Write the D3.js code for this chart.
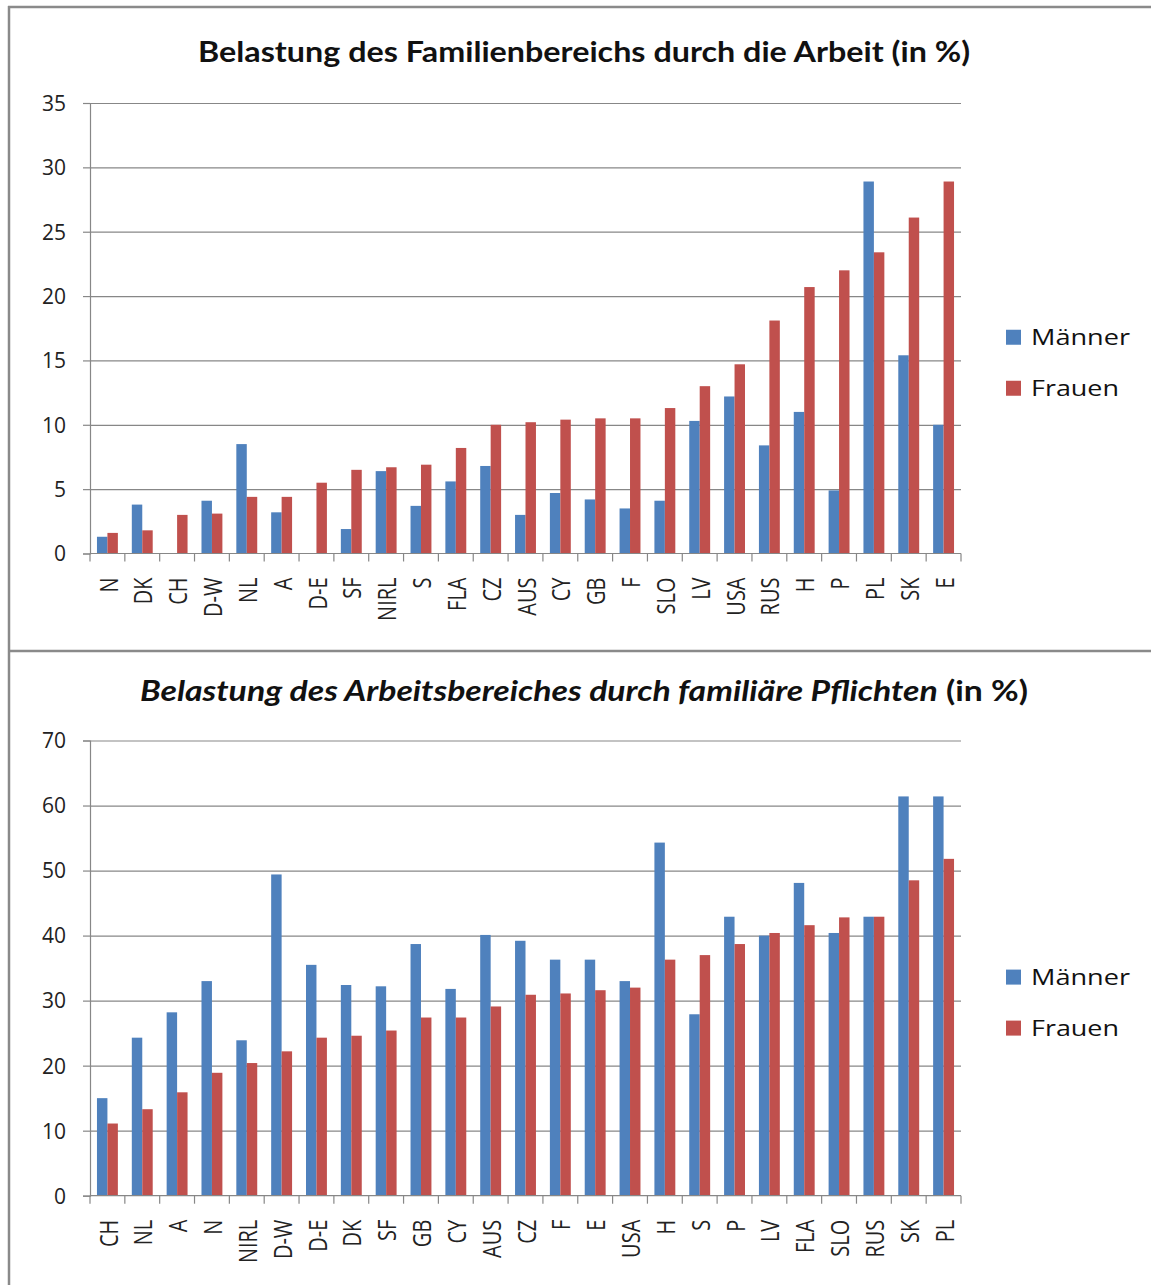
<!DOCTYPE html>
<html><head><meta charset="utf-8">
<script src="https://cdn.jsdelivr.net/npm/d3@7"></script>
<style>
html,body{margin:0;padding:0;background:#fff;}
svg{display:block;}
</style></head>
<body>
<svg id="c" width="1151" height="1285"></svg>
<script>
// ---------- data ----------
const series = ["Männer", "Frauen"];
const title1 = "Belastung des Familienbereichs durch die Arbeit (in %)";
const cats1 = ["N","DK","CH","D-W","NL","A","D-E","SF","NIRL","S","FLA","CZ","AUS","CY","GB","F","SLO","LV","USA","RUS","H","P","PL","SK","E"];
const maenner1 = [1.3,3.8,0,4.1,8.5,3.2,0,1.9,6.4,3.7,5.6,6.8,3.0,4.7,4.2,3.5,4.1,10.3,12.2,8.4,11.0,4.9,28.9,15.4,10.0];
const frauen1  = [1.6,1.8,3.0,3.1,4.4,4.4,5.5,6.5,6.7,6.9,8.2,10.0,10.2,10.4,10.5,10.5,11.3,13.0,14.7,18.1,20.7,22.0,23.4,26.1,28.9];
const yTicks1 = [0,5,10,15,20,25,30,35];

const title2Italic = "Belastung des Arbeitsbereiches durch familiäre Pflichten";
const title2Rest = " (in %)";
const cats2 = ["CH","NL","A","N","NIRL","D-W","D-E","DK","SF","GB","CY","AUS","CZ","F","E","USA","H","S","P","LV","FLA","SLO","RUS","SK","PL"];
const maenner2 = [15.0,24.3,28.2,33.0,23.9,49.4,35.5,32.4,32.2,38.7,31.8,40.1,39.2,36.3,36.3,33.0,54.3,27.9,42.9,40.0,48.1,40.4,42.9,61.4,61.4];
const frauen2  = [11.1,13.3,15.9,18.9,20.4,22.2,24.3,24.6,25.4,27.4,27.4,29.1,30.9,31.1,31.6,32.0,36.3,37.0,38.7,40.4,41.6,42.8,42.9,48.5,51.8];
const yTicks2 = [0,10,20,30,40,50,60,70];

const colors = ["#4F81BD", "#C0504D"];
const gridColor = "#878787";
const FONT = "'Open Sans', 'DejaVu Sans', sans-serif";
const TFONT = "Lato, 'Open Sans', sans-serif";

const svg = d3.select("#c");

// frame lines
svg.append("line").attr("x1",9).attr("x2",9).attr("y1",6).attr("y2",1285)
  .attr("stroke","#8a8a8a").attr("stroke-width",2.5);
svg.append("line").attr("x1",8).attr("x2",1151).attr("y1",7).attr("y2",7)
  .attr("stroke","#8a8a8a").attr("stroke-width",2.5);
svg.append("line").attr("x1",8).attr("x2",1151).attr("y1",651).attr("y2",651)
  .attr("stroke","#8a8a8a").attr("stroke-width",2.5);

function drawChart(cfg){
  const g = svg.append("g");
  const x = d3.scaleBand().domain(cfg.cats).range([cfg.left, cfg.right]).paddingInner(0).paddingOuter(0);
  const groupW = x.bandwidth()*0.6;
  const x1 = d3.scaleBand().domain(series).range([0, groupW]).padding(0);
  const y = d3.scaleLinear().domain([0, d3.max(cfg.ticks)]).range([cfg.bottom, cfg.top]);

  // gridlines
  g.append("g").attr("transform",`translate(${cfg.left},0)`)
    .call(d3.axisLeft(y).tickValues(cfg.ticks.filter(t=>t>0)).tickSize(-(cfg.right-cfg.left)).tickFormat(""))
    .call(s=>{s.select(".domain").remove(); s.selectAll("line").attr("stroke",gridColor).attr("stroke-width",1.2);});

  // bars
  const data = cfg.cats.map((c,i)=>({cat:c, vals:[cfg.m[i], cfg.f[i]]}));
  const grp = g.selectAll("g.cat").data(data).join("g")
    .attr("transform", d=>`translate(${x(d.cat) + (x.bandwidth()-groupW)/2},0)`);
  grp.selectAll("rect").data(d=>d.vals.map((v,k)=>({s:series[k], v, k}))).join("rect")
    .attr("x", d=>x1(d.s)).attr("width", x1.bandwidth())
    .attr("y", d=>y(d.v)).attr("height", d=>y(0)-y(d.v))
    .attr("fill", d=>colors[d.k]);

  // y axis
  g.append("g").attr("transform",`translate(${cfg.left},0)`)
    .call(d3.axisLeft(y).tickValues(cfg.ticks).tickSize(7).tickPadding(17))
    .call(s=>{
      s.select(".domain").attr("stroke",gridColor).attr("stroke-width",1.2);
      s.selectAll("line").attr("stroke",gridColor).attr("stroke-width",1.2);
      s.selectAll("text").attr("font-family",FONT).attr("font-size",21).attr("fill","#222")
        .attr("dy","0.35em");
    });

  // x axis baseline
  g.append("line").attr("x1",cfg.left).attr("x2",cfg.right).attr("y1",y(0)).attr("y2",y(0))
    .attr("stroke",gridColor).attr("stroke-width",1.2);
  // category boundary ticks
  const bounds = cfg.cats.map(c=>x(c)).concat([cfg.right]);
  g.selectAll("line.bt").data(bounds).join("line")
    .attr("x1",d=>d).attr("x2",d=>d).attr("y1",y(0)).attr("y2",y(0)+8)
    .attr("stroke",gridColor).attr("stroke-width",1.2);

  // x labels
  const xa = g.append("g").attr("transform",`translate(0,${y(0)})`)
    .call(d3.axisBottom(x).tickSize(0).tickPadding(0));
  xa.select(".domain").remove();
  xa.selectAll(".tick text")
    .attr("font-family",FONT).attr("font-size",20).attr("fill","#222")
    .attr("text-anchor","end").attr("dy",null).attr("y",0).attr("x",0)
    .attr("transform","translate(0,24) rotate(-90) scale(1,1.3)")
    .attr("dominant-baseline","central");

  // title
  const t = g.append("text").attr("x",584).attr("y",cfg.titleY).attr("text-anchor","middle")
    .attr("font-family",TFONT).attr("font-size",28).attr("font-weight","bold").attr("fill","#111")
    .attr("textLength", cfg.titleLen).attr("lengthAdjust","spacingAndGlyphs");
  cfg.title.forEach(p=>t.append("tspan").attr("font-style",p.italic?"italic":"normal").text(p.text));

  // legend
  const cy = (cfg.top+cfg.bottom)/2 + 9;
  const lg = g.append("g");
  series.forEach((s,k)=>{
    const yy = cy + k*51;
    lg.append("rect").attr("x",1006).attr("y",yy-7.5).attr("width",15).attr("height",15).attr("fill",colors[k]);
    lg.append("text").attr("x",1031).attr("y",yy).attr("dy","0.36em")
      .attr("font-family",FONT).attr("font-size",22).attr("fill","#111")
      .attr("textLength", k===0?99:88).attr("lengthAdjust","spacingAndGlyphs")
      .text(s);
  });
}

drawChart({cats:cats1, m:maenner1, f:frauen1, ticks:yTicks1, left:90, right:961, top:103, bottom:553.5,
  title:[{text:title1, italic:false}], titleY:62, titleLen:772});
drawChart({cats:cats2, m:maenner2, f:frauen2, ticks:yTicks2, left:90, right:961, top:740.5, bottom:1195.7,
  title:[{text:title2Italic, italic:true},{text:title2Rest, italic:false}], titleY:701, titleLen:888});
</script>
</body></html>
